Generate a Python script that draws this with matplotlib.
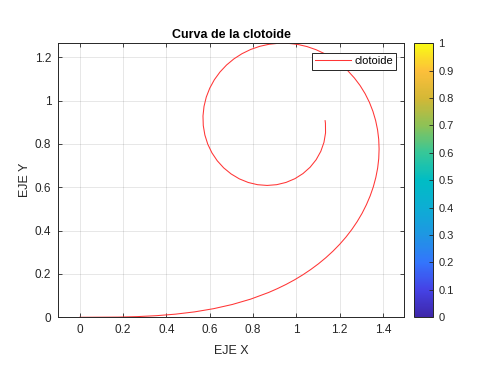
import matplotlib
matplotlib.use('Agg')
import matplotlib.pyplot as plt
from matplotlib.colors import LinearSegmentedColormap
import matplotlib.cm as cm
import numpy as np

plt.rcParams['font.family'] = ['Liberation Sans', 'DejaVu Sans']

# points of the clotoide
eje_x = [0.0, 0.1772, 0.2658, 0.3543, 0.4427, 0.5307, 0.6181, 0.7045, 0.7896,
         0.8727, 0.9132, 0.9531, 0.9921, 1.0300, 1.0668, 1.1024, 1.1366, 1.1692,
         1.2002, 1.2293, 1.2564, 1.2812, 1.3038, 1.3237, 1.3411, 1.3556, 1.3671,
         1.3756, 1.3807, 1.3823, 1.3806, 1.3753, 1.3663, 1.3538, 1.3377, 1.3179,
         1.2947, 1.2681, 1.2383, 1.2054, 1.1697, 1.1318, 1.0916, 1.0497, 1.0065,
         0.9626, 0.9183, 0.8742, 0.8309, 0.7892, 0.7493, 0.7121, 0.6780, 0.6478,
         0.6217, 0.6005, 0.5844, 0.5740, 0.5693, 0.5706, 0.5780, 0.5913, 0.6105,
         0.6352, 0.6650, 0.6992, 0.7372, 0.7783, 0.8214, 0.8654, 0.9096, 0.9526,
         0.9935, 1.0308, 1.0639, 1.0917, 1.1132, 1.1278, 1.1351, 1.1346, 1.1331]
eje_y = [0.0, 0.0009, 0.0031, 0.0074, 0.0145, 0.0250, 0.0397, 0.0591, 0.0839,
         0.1147, 0.1325, 0.1519, 0.1730, 0.1959, 0.2206, 0.2470, 0.2752, 0.3051,
         0.3368, 0.3702, 0.4053, 0.4419, 0.4801, 0.5197, 0.5605, 0.6022, 0.6450,
         0.6886, 0.7326, 0.7768, 0.8211, 0.8651, 0.9085, 0.9509, 0.9922, 1.0320,
         1.0697, 1.1049, 1.1377, 1.1676, 1.1939, 1.2165, 1.2352, 1.2497, 1.2597,
         1.2647, 1.2650, 1.2604, 1.2508, 1.2363, 1.2169, 1.1930, 1.1646, 1.1324,
         1.0966, 1.0577, 1.0164, 0.9734, 0.9294, 0.8851, 0.8414, 0.7993, 0.7593,
         0.7225, 0.6897, 0.6617, 0.6390, 0.6223, 0.6121, 0.6087, 0.6122, 0.6226,
         0.6398, 0.6634, 0.6928, 0.7274, 0.7661, 0.8077, 0.8514, 0.8957, 0.9077]

x_ticks = [0, 0.2, 0.4, 0.6, 0.8, 1, 1.2, 1.4]
y_ticks = [0, 0.2, 0.4, 0.6, 0.8, 1, 1.2]
cb_ticks = [0, 0.1, 0.2, 0.3, 0.4, 0.5, 0.6, 0.7, 0.8, 0.9, 1]

# parula-like colormap
parula = LinearSegmentedColormap.from_list('parula', [
    (0.0, (0.2422, 0.1504, 0.6603)),
    (0.1, (0.2700, 0.2600, 0.9000)),
    (0.2, (0.2000, 0.4600, 0.9900)),
    (0.3, (0.1200, 0.5900, 0.8900)),
    (0.4, (0.0500, 0.6800, 0.8300)),
    (0.5, (0.0000, 0.7400, 0.7700)),
    (0.6, (0.2100, 0.7800, 0.6000)),
    (0.7, (0.5500, 0.7600, 0.3400)),
    (0.8, (0.8300, 0.7200, 0.2100)),
    (0.9, (0.9900, 0.7500, 0.2300)),
    (1.0, (0.9769, 0.9839, 0.0805)),
])

dark = (0.15, 0.15, 0.15)

fig = plt.figure(figsize=(5, 3.75), dpi=100)
ax = fig.add_axes([0.1166, 0.1539, 0.692, 0.7307])

ax.plot(eje_x, eje_y, color='#ff3535', linewidth=0.75, label='clotoide')

ax.set_xlim(min(eje_x), max(eje_x))
ax.set_ylim(0, max(eje_y))
ax.set_aspect('equal', adjustable='datalim')

ax.set_xticks(x_ticks)
ax.set_xticklabels(['0', '0.2', '0.4', '0.6', '0.8', '1', '1.2', '1.4'])
ax.set_yticks(y_ticks)
ax.set_yticklabels(['0', '0.2', '0.4', '0.6', '0.8', '1', '1.2'])
ax.tick_params(direction='in', length=3, width=0.6, colors=dark, labelsize=8.5,
               top=True, right=True, pad=5)
ax.grid(True, color=dark, alpha=0.13, linewidth=0.6)
ax.set_axisbelow(True)
for s in ax.spines.values():
    s.set_color(dark)
    s.set_linewidth(0.7)

ax.set_title('Curva de la clotoide', fontsize=9, fontweight='bold', pad=4)
ax.set_xlabel('EJE X', fontsize=9, color=dark, labelpad=6)
ax.set_ylabel('EJE Y', fontsize=9, color=dark, labelpad=3)

leg = ax.legend(loc='upper right', bbox_to_anchor=(0.977, 0.965), fontsize=8,
                fancybox=False, framealpha=1, edgecolor=dark, handlelength=3.2,
                borderpad=0.3, handletextpad=0.3, borderaxespad=0)
leg.get_frame().set_linewidth(0.7)

cax = fig.add_axes([0.8286, 0.1539, 0.038, 0.7307])
sm = cm.ScalarMappable(cmap=parula, norm=plt.Normalize(0, 1))
cb = fig.colorbar(sm, cax=cax, ticks=cb_ticks)
cb.ax.set_yticklabels(['0', '0.1', '0.2', '0.3', '0.4', '0.5', '0.6', '0.7', '0.8', '0.9', '1'])
cb.ax.tick_params(direction='in', length=3, width=0.6, colors=dark, labelsize=8)
cb.outline.set_edgecolor(dark)
cb.outline.set_linewidth(0.7)

fig.savefig('out.png', dpi=100)
